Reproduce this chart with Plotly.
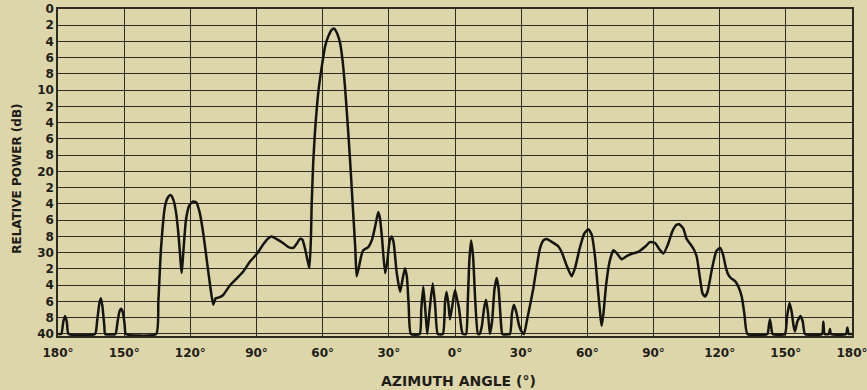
import plotly.graph_objects as go

# Azimuth angle (deg): negative = left half of the chart (180..0), positive = right half (0..180)
angle = [-180, -178.5, -177.6, -176.8, -176.0, -175.2,
         -163.2, -162.3, -161.3, -160.6, -159.9, -159.0, -158.6,
         -154, -153.0, -152.1, -151.4, -150.6, -149.8, -149.2,
         -135.5, -134.5, -133.3, -131.5, -130.2, -129.0, -127.8, -126.5, -125.3, -124.3, -123.9,
         -123.2, -122, -120.5, -118.8, -117.3, -115.8, -114.2, -112.5, -110.8, -109.6, -108.5,
         -107, -105.1, -102.0, -99.5, -96.0, -93, -90, -87, -84.5, -83.1, -81, -78, -75.5, -73.3,
         -71.8, -70.3, -69.2, -68.0, -66.8, -66.0, -65.3, -65.0, -64.3, -63.5, -62.0, -60.4, -58.9,
         -57.5, -56, -54.9, -53.8, -52.1, -51, -49.9, -48.7, -47.6, -46.4, -45.2, -44.6, -43.6,
         -42.4, -41.6, -39.3, -37.5, -36.0, -34.8, -34.0, -33.0, -31.7, -30.8, -29.6, -28.7, -27.8,
         -26.5, -24.9, -24.0, -22.7, -21.8, -21.0, -20.0,
         -16.0, -15.3, -14.4, -13.6, -12.6, -11.5, -10.1, -9.0, -7.8, -5.5, -4.5, -3.8, -2.9, -2.3,
         -1.2, 0, 1.0, 1.8, 3.0, 3.6, 5.0, 5.8, 6.5, 7.3, 8.2, 9.2, 10.4, 11.2, 12.2, 13.2, 14.1,
         15.0, 15.8, 16.8, 17.9, 18.9, 19.8, 20.8, 21.5, 24.9, 25.8, 26.7, 27.8, 29.0, 30.2, 31.3,
         32.5, 34.0, 35.5, 37, 38.5, 40, 41.5, 43.5, 46.8, 48.5, 50.5, 52.9, 54.5, 56.5, 58.5, 60.5,
         62, 63.5, 64.8, 66.0, 66.5, 67.3, 68.5, 70.0, 71.8, 73.5, 75.6, 78, 80.5, 83.1, 86, 88.4,
         90.7, 92.5, 94.5, 96.5, 98.5, 100.3, 101.7, 103.5, 105.0, 106.6, 108.3, 109.6, 111, 112.2,
         113.3, 114.5, 116.5, 118.5, 120.2, 121.5, 122.8, 123.9, 125.0, 126.0, 127.0, 128.5, 130.0,
         131.2, 132.6,
         141.6, 142.3, 142.8, 143.4, 144.0, 149.6, 150.5, 151.6, 152.6, 153.5, 154.1, 155.2, 156.7,
         157.7, 158.7, 166.4, 167.0, 167.6, 169.5, 170.0, 170.5, 177.3, 177.9, 178.5, 180]

power_db = [40, 40, 38.5, 37.8, 38.5, 40,
            40, 38.5, 36.3, 35.6, 36.5, 39, 40,
            40, 38.5, 37.2, 36.9, 37.3, 38.8, 40,
            40, 36, 29.5, 24.3, 23.2, 22.9, 23.4, 25, 28, 31.5, 32.5,
            30, 26, 24.2, 23.7, 23.8, 25, 27.5, 31, 34.5, 36.4, 35.6,
            35.5, 35.2, 34.0, 33.3, 32.3, 31.1, 30.2, 29.0, 28.2, 28.0, 28.3, 28.8, 29.3, 29.4,
            28.9, 28.3, 28.4, 29.5, 31.0, 31.9, 28, 24.2, 19, 15.2, 10.3, 7.1, 4.6,
            3.4, 2.6, 2.4, 2.8, 4.2, 6.3, 9.5, 14, 18.5, 24, 29.5, 32.9, 31.8,
            30.3, 29.7, 29.3, 28.3, 26.5, 25.0, 25.8, 28.5, 32.5, 31.3, 28.5, 28.0, 28.8,
            32.3, 34.8, 33.6, 31.9, 33, 36.5, 40,
            40, 37, 34.2, 36.5, 40, 37, 33.8, 36.5, 40, 40, 36, 34.8, 36.5, 38.2,
            36.5, 34.6, 35.8, 36.8, 39.5, 40, 40, 36, 31, 28.5, 30.5, 36, 40, 40, 39.0, 36.8, 35.8,
            37.5, 40, 38.5, 34.5, 33.1, 34.5, 38.5, 40, 40, 37.5, 36.4, 37.3, 38.9, 39.7, 40,
            38.5, 36.5, 34.4, 31.8, 29.5, 28.5, 28.3, 28.6, 29.2, 30.0, 31.5, 32.9, 31.8, 29.5, 27.7, 27.1,
            27.8, 30.5, 34.5, 38.0, 39.0, 37.5, 34, 31.2, 29.7, 30.1, 30.8, 30.4, 30.1, 29.9, 29.3, 28.7,
            28.8, 29.5, 30.1, 29.0, 27.4, 26.6, 26.5, 27.0, 28.3, 28.9, 29.6, 30.5, 33, 35.0,
            35.4, 34.8, 32, 29.8, 29.4, 30.2, 31.8, 32.7, 33.1, 33.3, 33.5, 34.2, 35.4,
            37.5, 40,
            40, 39, 38.2, 39.2, 40, 40, 38, 36.2, 37.2, 39, 39.7, 38.5, 37.8,
            38.5, 40, 40, 38.5, 40, 40, 39.4, 40, 40, 39.2, 40, 40]

x_tick_vals = [-180, -150, -120, -90, -60, -30, 0, 30, 60, 90, 120, 150, 180]
x_tick_text = ["180°", "150°", "120°", "90°", "60°", "30°", "0°", "30°", "60°", "90°", "120°", "150°", "180°"]
y_tick_vals = list(range(0, 41, 2))
y_tick_text = ["0", "2", "4", "6", "8", "10", "2", "4", "6", "8", "20", "2", "4", "6", "8",
               "30", "2", "4", "6", "8", "40"]

bg = "#ddd6aa"
grid = "#2e2c22"
ink = "#1e1d18"
font_family = "'DejaVu Sans', sans-serif"

fig = go.Figure()
fig.add_trace(go.Scatter(
    x=angle, y=power_db, mode="lines",
    line=dict(color="#141410", width=2.5, shape="spline", smoothing=0.5),
    showlegend=False, hoverinfo="skip",
))

fig.update_layout(
    width=867, height=390,
    margin=dict(l=58, r=15, t=9, b=54, autoexpand=False),
    paper_bgcolor=bg, plot_bgcolor=bg,
    font=dict(family=font_family, color=ink),
    annotations=[
        dict(text="AZIMUTH ANGLE (°)", xref="paper", yref="paper", x=0.505, y=-0.138,
             xanchor="center", yanchor="middle", showarrow=False,
             font=dict(size=14, family=font_family, weight="bold", color=ink)),
        dict(text="RELATIVE POWER (dB)", xref="paper", yref="paper", x=-0.052, y=0.48,
             xanchor="center", yanchor="middle", showarrow=False, textangle=-90,
             font=dict(size=12, family=font_family, weight="bold", color=ink)),
    ],
)
fig.update_xaxes(
    range=[-180, 180], tickmode="array", tickvals=x_tick_vals, ticktext=x_tick_text,
    showgrid=True, gridcolor=grid, gridwidth=1,
    showline=True, linecolor=grid, linewidth=1.5, mirror=True,
    zeroline=False, ticks="", ticklen=0, automargin=False, ticklabeloverflow="allow",
    ticklabelstandoff=5,
    tickfont=dict(size=12, family=font_family, weight="bold", color=ink),
)
fig.update_yaxes(
    range=[40.25, 0], tickmode="array", tickvals=y_tick_vals, ticktext=y_tick_text,
    showgrid=True, gridcolor=grid, gridwidth=1.4,
    showline=True, linecolor=grid, linewidth=1.5, mirror=True,
    zeroline=False, ticks="", ticklen=0, automargin=False, ticklabeloverflow="allow",
    tickfont=dict(size=12, family=font_family, weight="bold", color=ink),
)

fig.write_html(
    "out.html",
    config={"displayModeBar": False},
    post_script="document.body.style.margin='0';document.body.style.background='" + bg + "';",
)
